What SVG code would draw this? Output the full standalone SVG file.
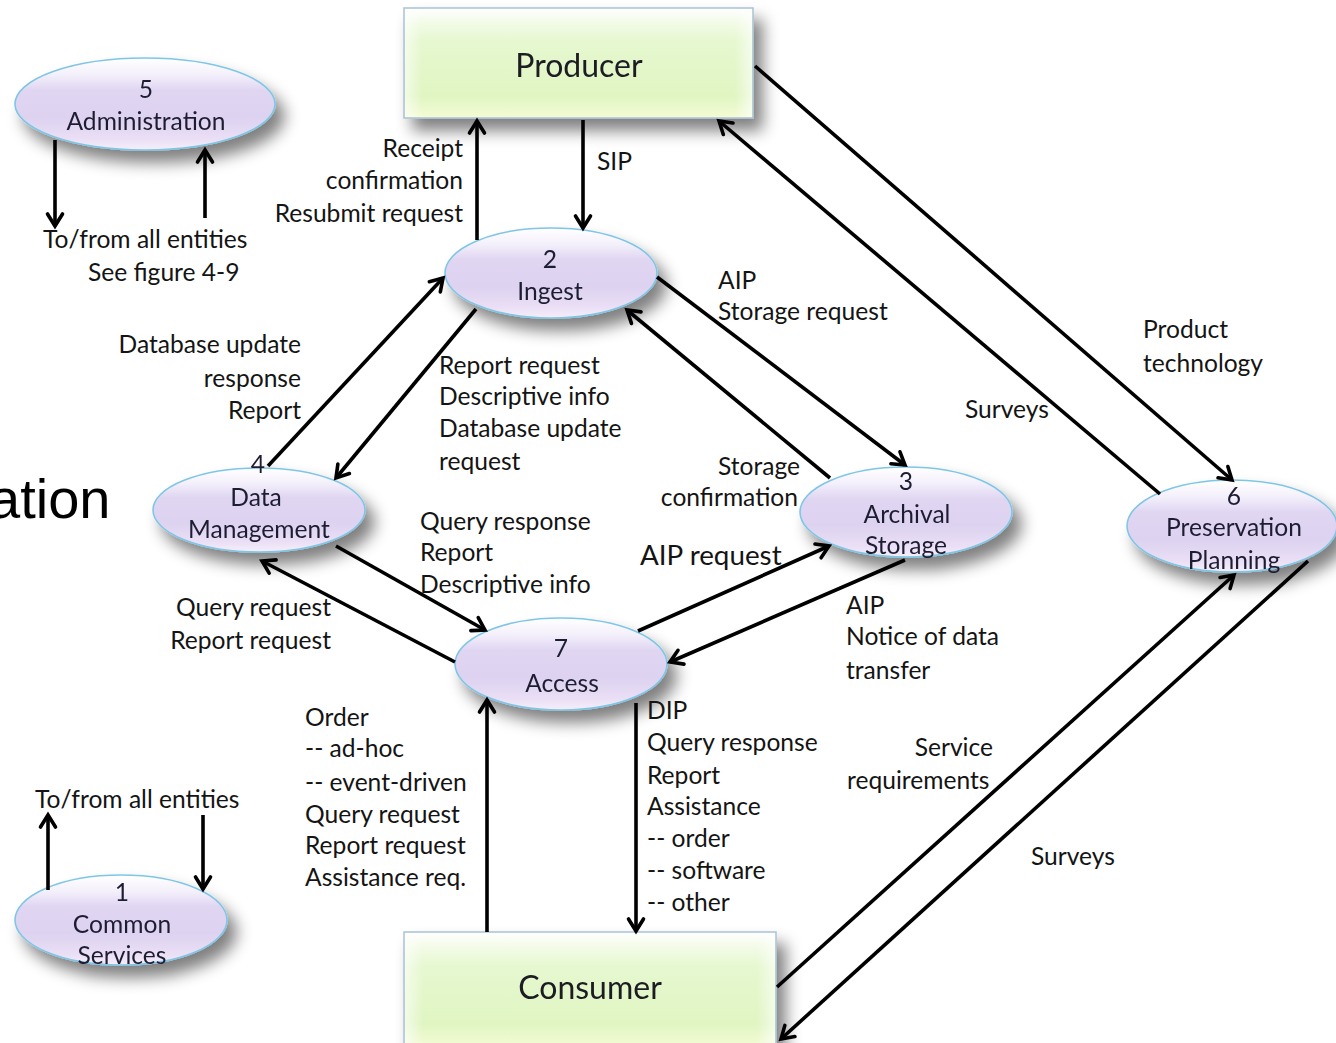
<svg xmlns="http://www.w3.org/2000/svg" width="1336" height="1043" viewBox="0 0 1336 1043">
  <defs>
    <linearGradient id="boxFill" x1="0" y1="0" x2="0" y2="1">
      <stop offset="0" stop-color="#ffffff"/>
      <stop offset="0.14" stop-color="#f2fbe6"/>
      <stop offset="0.3" stop-color="#e6f8d0"/>
      <stop offset="0.8" stop-color="#e0f5c2"/>
      <stop offset="1" stop-color="#f4fcd6"/>
    </linearGradient>
    <linearGradient id="boxSide" x1="0" y1="0" x2="1" y2="0">
      <stop offset="0" stop-color="#ffffff" stop-opacity="0.6"/>
      <stop offset="0.05" stop-color="#ffffff" stop-opacity="0"/>
      <stop offset="0.95" stop-color="#ffffff" stop-opacity="0"/>
      <stop offset="1" stop-color="#ffffff" stop-opacity="0.6"/>
    </linearGradient>
    <linearGradient id="ovalFill" x1="0" y1="0" x2="0" y2="1">
      <stop offset="0" stop-color="#ffffff"/>
      <stop offset="0.18" stop-color="#f4f0fb"/>
      <stop offset="0.35" stop-color="#e0d6f2"/>
      <stop offset="0.65" stop-color="#ddd2f0"/>
      <stop offset="0.88" stop-color="#eadff5"/>
      <stop offset="1" stop-color="#f6eefa"/>
    </linearGradient>
    <filter id="shadow" x="-20%" y="-20%" width="150%" height="170%">
      <feGaussianBlur in="SourceAlpha" stdDeviation="8"/>
      <feOffset dx="9" dy="12" result="blur"/>
      <feComponentTransfer><feFuncA type="linear" slope="0.5"/></feComponentTransfer>
      <feMerge><feMergeNode/><feMergeNode in="SourceGraphic"/></feMerge>
    </filter>
    <marker id="arrow" markerUnits="userSpaceOnUse" markerWidth="22" markerHeight="22" refX="15" refY="10" orient="auto">
      <path d="M3,2.5 L15,10 L3,17.5" fill="none" stroke="#000" stroke-width="3.6" stroke-linecap="round" stroke-linejoin="miter"/>
    </marker>
  </defs>
  <style>
    .box { fill: url(#boxFill); stroke: #a9c2d6; stroke-width: 1.5; }
    .oval { fill: url(#ovalFill); stroke: #7fc6e6; stroke-width: 1.6; }
    .title { font-family: Lato, "Open Sans", sans-serif; font-size: 32px; fill: #1b1b22; text-anchor: middle; }
    .nlabel { font-family: Lato, "Open Sans", sans-serif; font-size: 24.6px; fill: #1f1d33; text-anchor: middle; }
    .lbl { font-family: Lato, "Open Sans", sans-serif; font-size: 24.6px; fill: #141414; }
    .end { text-anchor: end; }
    .big { font-size: 27.8px; }
    .conn line { stroke: #000; stroke-width: 3.6; marker-end: url(#arrow); }
  </style>

  <rect width="1336" height="1043" fill="#ffffff"/>

  <!-- heading fragment running in from the left edge -->
  <text x="-11" y="518" font-family="Liberation Sans, Arial, sans-serif" font-size="56" fill="#000">ation</text>

  <!-- external entities -->
  <g id="producer" filter="url(#shadow)">
    <rect class="box" x="404" y="8" width="349" height="110"/>
    <rect x="405" y="9" width="347" height="108" fill="url(#boxSide)"/>
    <text class="title" x="579" y="77">Producer</text>
  </g>
  <g id="consumer" filter="url(#shadow)">
    <rect class="box" x="404" y="932" width="372" height="115"/>
    <rect x="405" y="933" width="370" height="113" fill="url(#boxSide)"/>
    <text class="title" x="590" y="999">Consumer</text>
  </g>

  <!-- functional entities -->
  <g id="administration" filter="url(#shadow)">
    <ellipse class="oval" cx="145" cy="104" rx="130" ry="46"/>
    <text class="nlabel" x="146" y="98">5</text>
    <text class="nlabel" x="146" y="130">Administration</text>
  </g>
  <g id="ingest" filter="url(#shadow)">
    <ellipse class="oval" cx="551" cy="273" rx="106" ry="45"/>
    <text class="nlabel" x="550" y="268">2</text>
    <text class="nlabel" x="550" y="300">Ingest</text>
  </g>
  <g id="data-management" filter="url(#shadow)">
    <ellipse class="oval" cx="259" cy="510" rx="106" ry="42"/>
    <text class="nlabel" x="258" y="473">4</text>
    <text class="nlabel" x="256" y="506">Data</text>
    <text class="nlabel" x="259" y="538">Management</text>
  </g>
  <g id="archival-storage" filter="url(#shadow)">
    <ellipse class="oval" cx="906" cy="512" rx="106" ry="45"/>
    <text class="nlabel" x="906" y="490">3</text>
    <text class="nlabel" x="907" y="523">Archival</text>
    <text class="nlabel" x="906" y="554">Storage</text>
  </g>
  <g id="preservation-planning" filter="url(#shadow)">
    <ellipse class="oval" cx="1232" cy="526" rx="105" ry="46"/>
    <text class="nlabel" x="1234" y="505">6</text>
    <text class="nlabel" x="1234" y="536">Preservation</text>
    <text class="nlabel" x="1234" y="569">Planning</text>
  </g>
  <g id="access" filter="url(#shadow)">
    <ellipse class="oval" cx="561" cy="664" rx="106" ry="46"/>
    <text class="nlabel" x="561" y="657">7</text>
    <text class="nlabel" x="562" y="692">Access</text>
  </g>
  <g id="common-services" filter="url(#shadow)">
    <ellipse class="oval" cx="121" cy="920" rx="106" ry="45"/>
    <text class="nlabel" x="122" y="901">1</text>
    <text class="nlabel" x="122" y="933">Common</text>
    <text class="nlabel" x="122" y="964">Services</text>
  </g>

  <!-- data flows -->
  <g id="connectors" class="conn">
    <line x1="55" y1="140" x2="55" y2="226"/>
    <line x1="205" y1="218" x2="205" y2="150"/>
    <line x1="477" y1="240" x2="477" y2="121"/>
    <line x1="583" y1="120" x2="583" y2="228"/>
    <line x1="657" y1="277" x2="905" y2="465"/>
    <line x1="830" y1="478" x2="627" y2="310"/>
    <line x1="268" y1="466" x2="443" y2="278"/>
    <line x1="476" y1="309" x2="336" y2="478"/>
    <line x1="336" y1="546" x2="485" y2="630"/>
    <line x1="455" y1="662" x2="262" y2="561"/>
    <line x1="638" y1="631" x2="829" y2="546"/>
    <line x1="905" y1="560" x2="670" y2="662"/>
    <line x1="487" y1="932" x2="487" y2="700"/>
    <line x1="636" y1="703" x2="636" y2="931"/>
    <line x1="755" y1="66" x2="1232" y2="480"/>
    <line x1="1160" y1="494" x2="719" y2="121"/>
    <line x1="777" y1="987" x2="1234" y2="575"/>
    <line x1="1308" y1="561" x2="781" y2="1039"/>
    <line x1="48" y1="890" x2="48" y2="815"/>
    <line x1="203" y1="815" x2="203" y2="889"/>
  </g>

  <!-- flow labels -->
  <g id="labels" class="lbl">
    <text x="43" y="248">To/from all entities</text>
    <text x="88" y="281">See figure 4-9</text>

    <text class="end" x="463" y="157">Receipt</text>
    <text class="end" x="463" y="189">confirmation</text>
    <text class="end" x="463" y="222">Resubmit request</text>
    <text x="597" y="170">SIP</text>

    <text x="718" y="289">AIP</text>
    <text x="718" y="320">Storage request</text>
    <text x="1143" y="338">Product</text>
    <text x="1143" y="372">technology</text>
    <text x="965" y="418">Surveys</text>

    <text class="end" x="301" y="353">Database update</text>
    <text class="end" x="301" y="387">response</text>
    <text class="end" x="301" y="419">Report</text>

    <text x="439" y="374">Report request</text>
    <text x="439" y="405">Descriptive info</text>
    <text x="439" y="437">Database update</text>
    <text x="439" y="470">request</text>

    <text class="end" x="800" y="475">Storage</text>
    <text class="end" x="798" y="506">confirmation</text>

    <text x="420" y="530">Query response</text>
    <text x="420" y="561">Report</text>
    <text x="420" y="593">Descriptive info</text>
    <text class="big" x="640" y="565">AIP request</text>

    <text class="end" x="331" y="616">Query request</text>
    <text class="end" x="331" y="649">Report request</text>

    <text x="846" y="614">AIP</text>
    <text x="846" y="645">Notice of data</text>
    <text x="846" y="679">transfer</text>

    <text x="305" y="726">Order</text>
    <text x="305" y="757">-- ad-hoc</text>
    <text x="305" y="791">-- event-driven</text>
    <text x="305" y="823">Query request</text>
    <text x="305" y="854">Report request</text>
    <text x="305" y="886">Assistance req.</text>

    <text x="647" y="719">DIP</text>
    <text x="647" y="751">Query response</text>
    <text x="647" y="784">Report</text>
    <text x="647" y="815">Assistance</text>
    <text x="647" y="847">-- order</text>
    <text x="647" y="879">-- software</text>
    <text x="647" y="911">-- other</text>

    <text class="end" x="993" y="756">Service</text>
    <text x="847" y="789">requirements</text>
    <text x="1031" y="865">Surveys</text>

    <text x="35" y="808">To/from all entities</text>
  </g>
</svg>
